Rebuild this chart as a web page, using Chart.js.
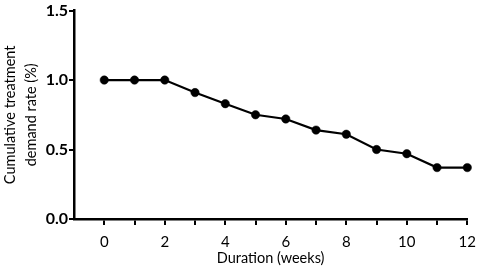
<!DOCTYPE html>
<html>
<head>
<meta charset="utf-8">
<script src="https://cdn.jsdelivr.net/npm/chart.js@4"></script>
<style>
  html, body { margin: 0; padding: 0; background: #fff; }
  #wrap { width: 484px; height: 271px; position: relative; }
</style>
</head>
<body>
<div id="wrap"><canvas id="demandChart"></canvas></div>
<script>
// weeks and cumulative treatment demand rate
const weeks = [0, 1, 2, 3, 4, 5, 6, 7, 8, 9, 10, 11, 12];
const demandRate = [1.0, 1.0, 1.0, 0.91, 0.83, 0.75, 0.72, 0.64, 0.61, 0.50, 0.47, 0.37, 0.37];
const yTicks = [0, 0.5, 1.0, 1.5];

const FONT = 'Lato, "Open Sans", sans-serif';

document.addEventListener('DOMContentLoaded', function() {
    const ctx = document.getElementById('demandChart');

    // eslint-disable-next-line no-new
    new Chart(ctx, {
        type: 'line',
        data: {
            datasets: [{
                data: weeks.map((w, i) => ({ x: w, y: demandRate[i] })),
                borderColor: '#000',
                backgroundColor: '#000',
                borderWidth: 2.2,
                pointRadius: 4.2,
                pointBorderWidth: 0.5,
                pointBackgroundColor: '#000',
                pointBorderColor: '#000',
                tension: 0,
                clip: false
            }]
        },
        options: {
            responsive: true,
            maintainAspectRatio: false,
            animation: false,
            layout: { padding: { top: 9, right: 11, left: 0, bottom: 0 } },
            plugins: {
                legend: { display: false },
                tooltip: { enabled: false }
            },
            scales: {
                x: {
                    type: 'linear',
                    min: -1,
                    max: 12,
                    afterFit: function(scale) { scale.height = 52; },
                    afterBuildTicks: function(scale) {
                        scale.ticks = weeks.map(v => ({ value: v }));
                    },
                    border: { color: '#000', width: 2.5 },
                    grid: {
                        drawOnChartArea: false,
                        color: '#000',
                        lineWidth: 2,
                        tickLength: 6
                    },
                    ticks: {
                        color: '#000',
                        font: { family: FONT, size: 15 },
                        padding: 8,
                        maxRotation: 0,
                        autoSkip: false,
                        callback: function(v) { return v % 2 === 0 ? String(v) : ''; }
                    },
                    title: {
                        display: true,
                        text: 'Duration (weeks)',
                        color: '#000',
                        font: { family: FONT, size: 14.5 },
                        padding: { top: 0, bottom: 4 }
                    }
                },
                y: {
                    min: 0,
                    max: 1.5,
                    afterFit: function(scale) { scale.width = 74; },
                    afterBuildTicks: function(scale) {
                        scale.ticks = yTicks.map(v => ({ value: v }));
                    },
                    border: { color: '#000', width: 2.5 },
                    grid: {
                        drawOnChartArea: false,
                        color: '#000',
                        lineWidth: 2,
                        tickLength: 5
                    },
                    ticks: {
                        color: '#000',
                        font: { family: FONT, size: 16, weight: 'bold' },
                        padding: 1,
                        callback: function(v) { return v.toFixed(1); }
                    },
                    title: {
                        display: true,
                        text: ['Cumulative treatment', 'demand rate (%)'],
                        color: '#000',
                        font: { family: FONT, size: 14.5, lineHeight: 1.45 },
                        padding: { top: 0, bottom: 2 }
                    }
                }
            }
        }
    });
});
</script>
</body>
</html>
